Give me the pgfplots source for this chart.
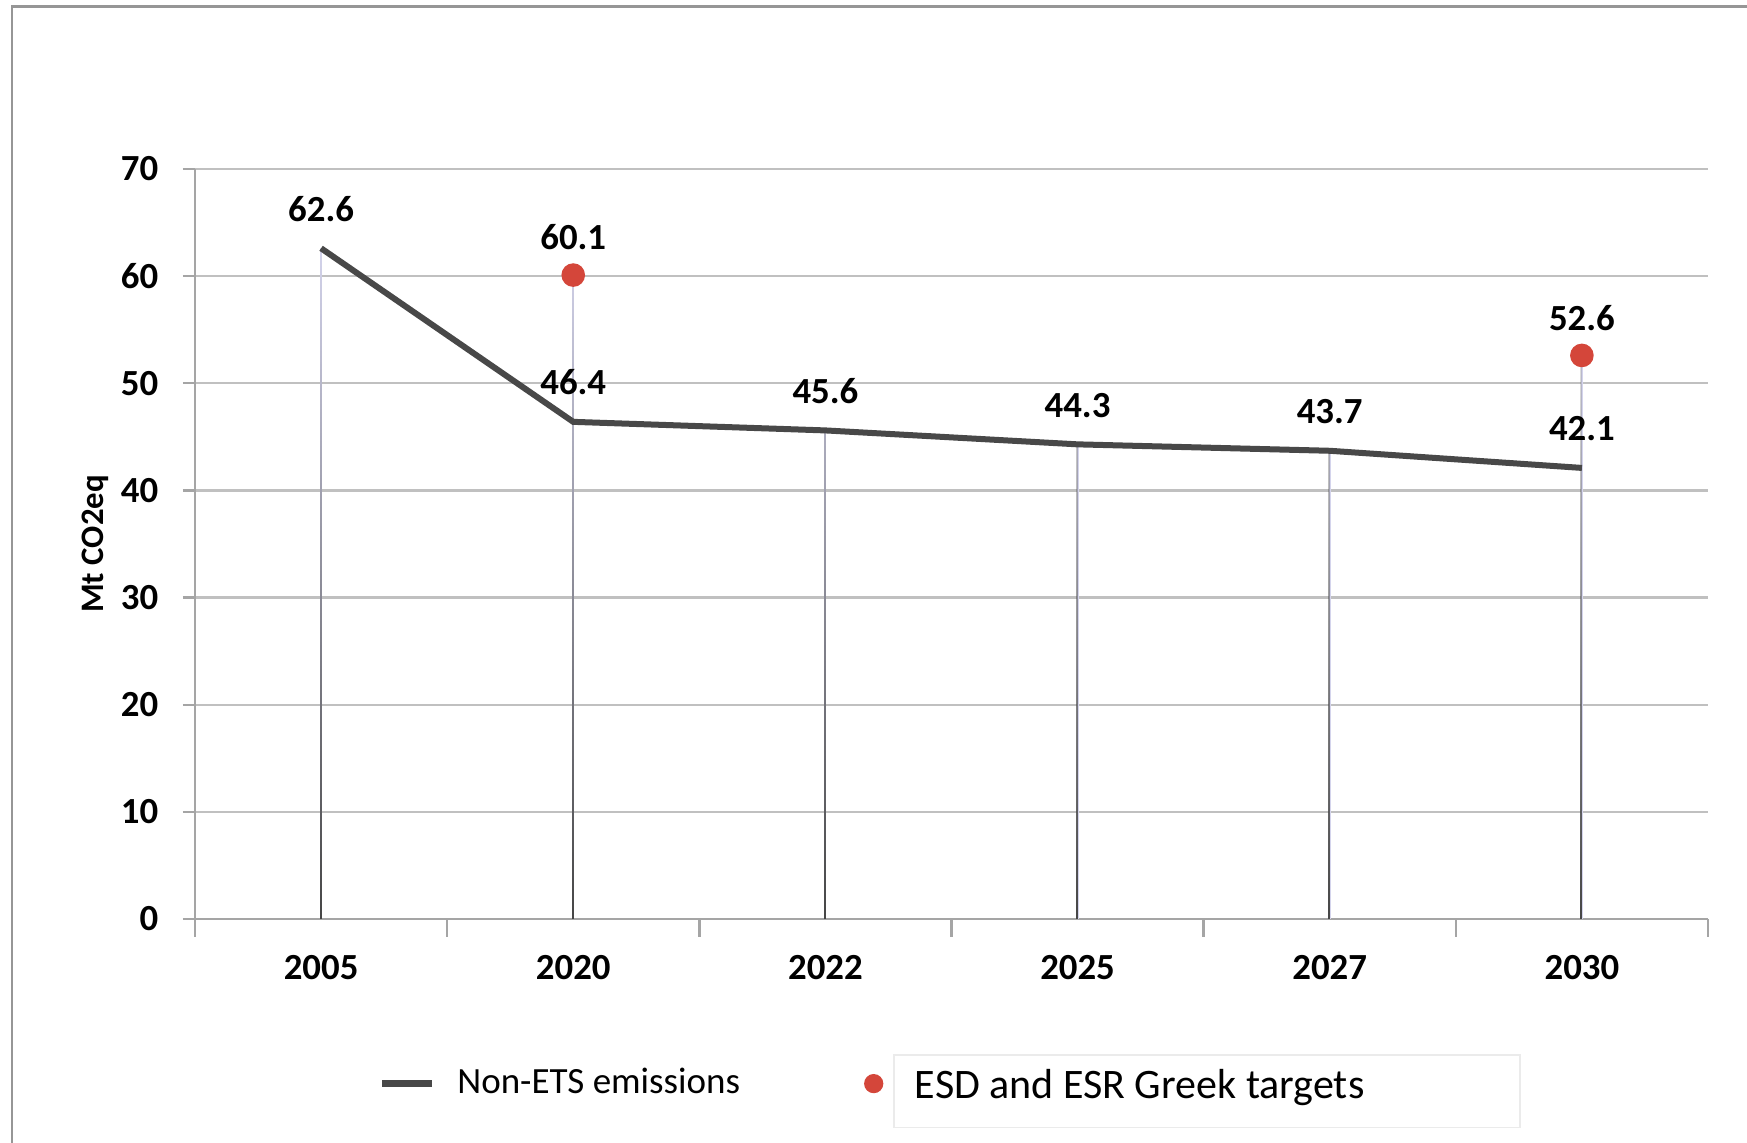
\documentclass[border=0pt]{standalone}
\usepackage{fontspec}
\setmainfont{Carlito}
\usepackage{pgfplots}
\pgfplotsset{compat=1.18}
\usetikzlibrary{fadings}
\definecolor{linecol}{RGB}{72,72,72}
\definecolor{dotred}{RGB}{212,70,58}
\definecolor{gridgray}{RGB}{192,192,192}
\definecolor{axisgray}{RGB}{165,165,165}
\definecolor{droplav}{RGB}{212,212,236}
\definecolor{dropdark}{RGB}{70,70,70}
\definecolor{framegray}{RGB}{150,150,150}
\definecolor{boxgray}{RGB}{235,235,235}
\begin{document}
\begin{tikzpicture}
\useasboundingbox (0,0) rectangle (436.75pt,285.75pt);
\fill[white] (0,0) rectangle (436.75pt,285.75pt);
\draw[framegray, line width=0.7pt] (3pt,0) -- (3pt,284.2pt) -- (436.75pt,284.2pt);
\begin{axis}[
  at={(48.75pt,56pt)}, anchor=south west,
  scale only axis, width=378.25pt, height=187.5pt,
  xmin=-0.5, xmax=5.5, ymin=0, ymax=70,
  /pgf/number format/assume math mode=true,
  axis x line*=bottom, axis y line*=left,
  axis line style={axisgray, line width=0.6pt},
  xtick={0,...,5},
  xticklabels={2005,2020,2022,2025,2027,2030},
  minor xtick={-0.5,0.5,...,5.5},
  major x tick style={draw=none},
  minor x tick style={axisgray, line width=0.6pt},
  minor tick length=4.5pt,
  ytick={0,10,...,70},
  major y tick style={axisgray, line width=0.6pt},
  major tick length=3pt,
  tick align=outside,
  ymajorgrids,
  grid style={gridgray, line width=0.6pt},
  ticklabel style={font=\fontsize{9.2}{11}\selectfont\bfseries, black},
  xticklabel style={inner sep=0pt, anchor=north, yshift=-6pt},
  yticklabel style={inner sep=0pt, anchor=east, xshift=-6pt},
  ylabel={Mt CO2eq},
  every axis y label/.style={at={(axis description cs:-0.0661,0.5)}, rotate=90, anchor=center, font=\fontsize{8.2}{10}\selectfont\bfseries},
  clip=false,
  legend columns=2,
  legend style={at={(axis description cs:0.1216,-0.2195)}, anchor=west,
    draw=none, fill=none, inner sep=0pt, outer sep=0pt,
    nodes={inner sep=0pt, anchor=west},
    /tikz/column 1/.style={column sep=5.5pt},
    /tikz/column 2/.style={column sep=31pt},
    /tikz/column 3/.style={column sep=2.5pt}},
]
% drop lines (to the higher of the two series)
\addplot[ycomb, droplav, line width=0.5pt, forget plot] coordinates {(0,62.6) (1,60.1) (2,45.6) (3,44.3) (4,43.7) (5,52.6)};
\addplot[ycomb, dropdark, line width=0.6pt, path fading=north, forget plot] coordinates {(0,62.6) (1,60.1) (2,45.6) (3,44.3) (4,43.7) (5,52.6)};
% Non-ETS emissions
\addplot[linecol, line width=1.5pt, mark=none,
  legend image code/.code={\draw[linecol, line width=1.6pt] (0pt,0pt) -- (12.5pt,0pt);},
  nodes near coords={\pgfmathprintnumber[fixed,fixed zerofill,precision=1]{\pgfplotspointmeta}},
  every node near coord/.append style={font=\fontsize{9.2}{11}\selectfont\bfseries, black, inner sep=0pt, anchor=south, yshift=6pt}]
  coordinates {(0,62.6) (1,46.4) (2,45.6) (3,44.3) (4,43.7) (5,42.1)};
\addlegendentry{\fontsize{9.25}{11}\selectfont Non-ETS emissions}
% Targets
\addplot[only marks, mark=*, mark size=2.75pt, mark options={fill=dotred, draw=dotred},
  legend image code/.code={\fill[dotred] (2.2pt,0pt) circle (2.2pt);},
  nodes near coords={\pgfmathprintnumber[fixed,fixed zerofill,precision=1]{\pgfplotspointmeta}},
  every node near coord/.append style={font=\fontsize{9.2}{11}\selectfont\bfseries, black, inner sep=0pt, anchor=south, yshift=6pt}]
  coordinates {(1,60.1) (5,52.6)};
\addlegendentry{\raisebox{2.1pt}{\setlength{\fboxsep}{0pt}\fcolorbox{boxgray}{white}{\makebox[156pt][l]{\hspace{5pt}\rule[-7pt]{0pt}{17.75pt}\fontsize{10.5}{13}\selectfont ESD and ESR Greek targets}}}}
\end{axis}
\end{tikzpicture}
\end{document}
